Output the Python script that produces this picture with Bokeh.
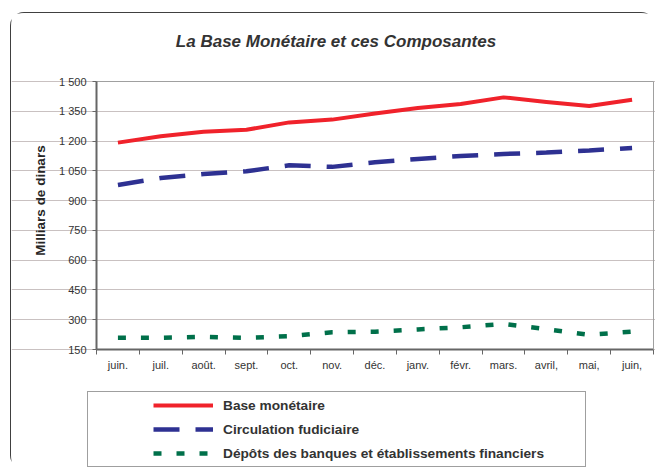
import math
from bokeh.plotting import figure
from bokeh.models import (Range1d, FixedTicker, Legend, LegendItem, ColumnDataSource,
                          LinearAxis, Label)
from bokeh.embed import file_html
from bokeh.resources import INLINE

# ---- data ----
months = ["juin.", "juil.", "août.", "sept.", "oct.", "nov.", "déc.",
          "janv.", "févr.", "mars.", "avril,", "mai,", "juin,"]
base_monetaire = [1192, 1224, 1247, 1257, 1294, 1308, 1339, 1367, 1387, 1420, 1397, 1377, 1408]
circulation = [979, 1014, 1034, 1048, 1078, 1070, 1093, 1110, 1125, 1135, 1142, 1153, 1165]
depots = [209, 209, 214, 209, 217, 237, 240, 251, 262, 279, 252, 224, 240]
y_ticks = [150, 300, 450, 600, 750, 900, 1050, 1200, 1350, 1500]

title_text = "La Base Monétaire et ces Composantes"
y_label = "Milliars de dinars"
series_names = ["Base monétaire", "Circulation fudiciaire",
                "Dépôts des banques et établissements financiers"]

FONT = "Liberation Sans"
TXT = "#333333"

# ---- layout (page pixels) ----
CX0, CY0, W, H = 11, 13, 645, 457          # canvas position / size
PL, PR, PT, PB = 96, 653, 81, 349           # plot area
Y0, Y1 = y_ticks[0], y_ticks[-1]
N = len(months)

kx = (PR - PL) / N
ky = (PB - PT) / (Y1 - Y0)
x_start = -(PL - CX0) / kx
x_end = N + (CX0 + W - PR) / kx
y_end = Y1 + (PT - CY0) / ky
y_start = Y0 - (CY0 + H - PB) / ky

def sx(px):
    return px - CX0

def sy(py):
    return CY0 + H - py

xs = [i + 0.5 for i in range(N)]
src = ColumnDataSource(dict(x=xs, base=base_monetaire, circ=circulation, dep=depots))

p = figure(width=W, height=H, output_backend="svg", toolbar_location=None,
           x_range=Range1d(x_start, x_end), y_range=Range1d(y_start, y_end),
           min_border_left=0, min_border_right=0, min_border_top=0,
           min_border_bottom=0)
p.margin = (12, 0, 0, 10)
p.styles = {"border-top": "1px solid #404040", "border-left": "1px solid #404040",
            "border-top-left-radius": "14px", "border-top-right-radius": "14px",
            "border-bottom-left-radius": "14px"}

p.background_fill_color = "white"
p.border_fill_color = "white"
p.outline_line_color = None

# grid
p.xgrid.grid_line_color = None
p.ygrid.grid_line_color = "#c9c1c1"
p.ygrid.grid_line_width = 1
p.ygrid.bounds = (0, N)

# y axis
yax = p.yaxis[0]
yax.fixed_location = 0
yax.bounds = (Y0, Y1)
yax.ticker = FixedTicker(ticks=y_ticks)
yax.major_label_overrides = {v: f"{v:,}".replace(",", " ") for v in y_ticks}
yax.minor_tick_line_color = None
yax.major_tick_in = 0
yax.major_tick_out = 4
yax.major_tick_line_color = "#666666"
yax.axis_line_color = "#666666"
yax.axis_line_width = 2
yax.major_label_text_font = FONT
yax.major_label_text_font_size = "11px"
yax.major_label_text_color = TXT
yax.major_label_standoff = 6

# x axis
xax = p.xaxis[0]
xax.fixed_location = Y0
xax.bounds = (0, N)
xax.ticker = FixedTicker(ticks=xs, minor_ticks=list(range(N + 1)))
xax.major_label_overrides = {x: m for x, m in zip(xs, months)}
xax.major_tick_line_color = None
xax.major_tick_in = 0
xax.major_tick_out = 5
xax.minor_tick_in = 0
xax.minor_tick_out = 5
xax.minor_tick_line_color = "#666666"
xax.axis_line_color = "#666666"
xax.axis_line_width = 2
xax.major_label_text_font = FONT
xax.major_label_text_font_size = "11px"
xax.major_label_text_color = TXT
xax.major_label_standoff = 4

# plot-area border (top / right)
for loc, side, bnds in ((N, "right", (Y0, Y1)), (Y1, "above", (0, N))):
    ax = LinearAxis(fixed_location=loc, bounds=bnds, ticker=FixedTicker(ticks=[]),
                    axis_line_color="#a0a0a0", axis_line_width=1,
                    major_tick_line_color=None, minor_tick_line_color=None,
                    major_label_text_font_size="0px")
    p.add_layout(ax, side)

# series
r_base = p.line("x", "base", source=src, line_color="#f0222b", line_width=4,
                line_join="round")
r_circ = p.line("x", "circ", source=src, line_color="#2e3192", line_width=4.5,
                line_dash="26 16")
r_dep = p.line("x", "dep", source=src, line_color="#00704a", line_width=4.5,
               line_dash="8 15")

# title and y-axis label
p.add_layout(Label(x=sx(335.5), y=sy(41), x_units="screen", y_units="screen",
                   text=title_text, text_font=FONT, text_font_size="17px",
                   text_font_style="bold italic", text_color=TXT,
                   text_align="center", text_baseline="alphabetic"))
p.add_layout(Label(x=sx(40), y=sy(200), x_units="screen", y_units="screen",
                   angle=math.pi / 2, text=y_label, text_font=FONT,
                   text_font_size="13.5px", text_font_style="bold",
                   text_color="#262626", text_align="center",
                   text_baseline="middle"))

# legend frame
dummy = p.line(x=[], y=[], line_alpha=0)
box = Legend(items=[LegendItem(label=" ", renderers=[dummy])],
             location=(sx(87), sy(467)), padding=0, spacing=0, margin=0,
             glyph_width=1, glyph_height=1, label_standoff=0,
             label_width=496, label_height=74,
             border_line_color="#404040", border_line_width=1,
             background_fill_color="white", background_fill_alpha=1,
             label_text_font_size="2px")
p.add_layout(box, "center")

# legend items
leg = Legend(items=[LegendItem(label=series_names[0], renderers=[r_base]),
                    LegendItem(label=series_names[1], renderers=[r_circ]),
                    LegendItem(label=series_names[2], renderers=[r_dep])],
             location=(sx(153), sy(461)), padding=0, spacing=8, margin=0,
             glyph_width=60, glyph_height=16, label_height=16,
             label_standoff=10, border_line_color=None,
             background_fill_alpha=0,
             label_text_font=FONT, label_text_font_size="13.7px",
             label_text_font_style="bold", label_text_color=TXT)
p.add_layout(leg, "center")

open("out.html", "w").write(file_html(p, INLINE))
